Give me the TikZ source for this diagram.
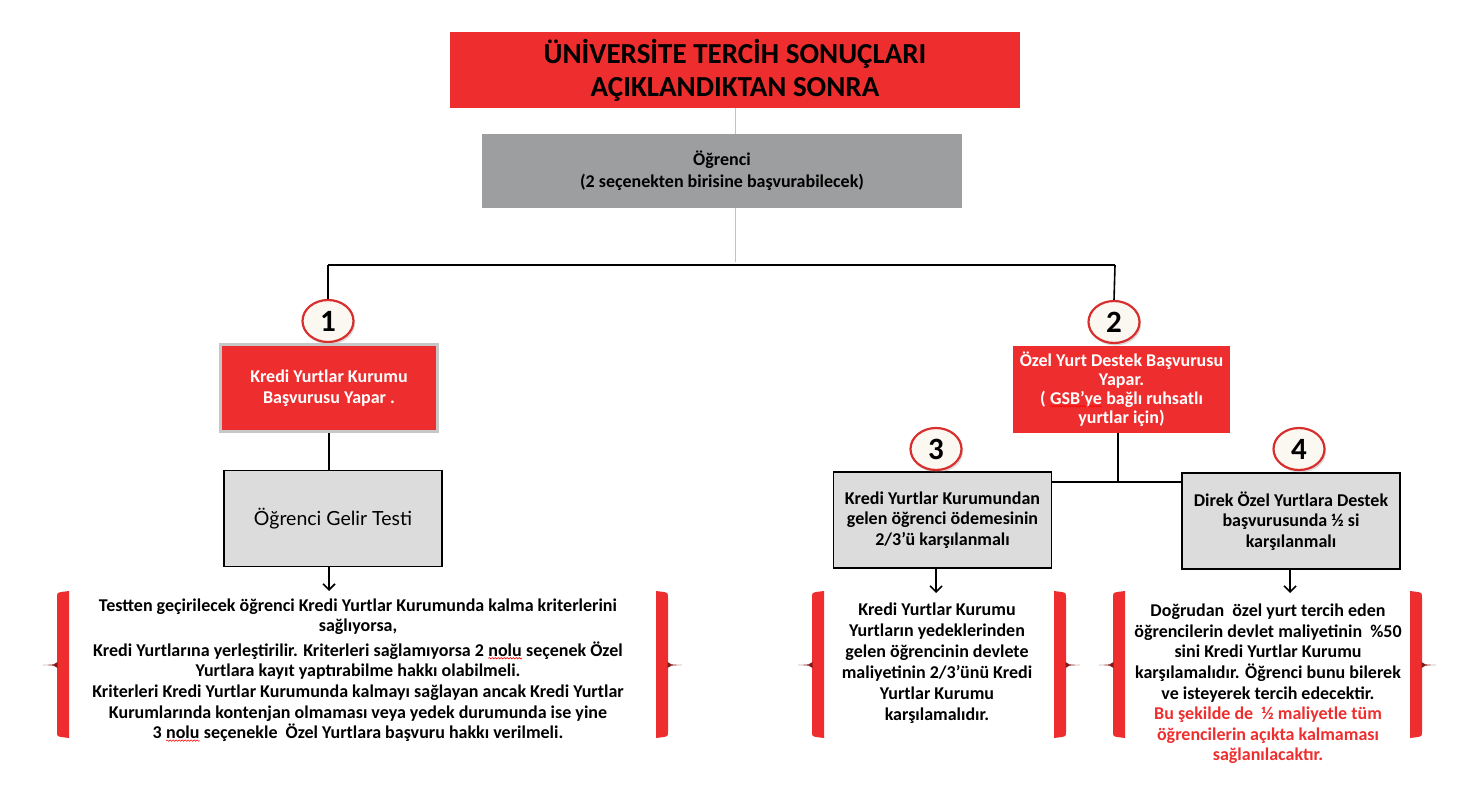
\documentclass[tikz,border=0pt]{standalone}
\usepackage{fontspec}
\setmainfont{Carlito}
\newfontfamily\gelirfont{Lato}
\usetikzlibrary{positioning}
\usetikzlibrary{shapes.geometric}
\usetikzlibrary{shadows}
\usetikzlibrary{arrows.meta}
\usetikzlibrary{decorations.pathmorphing}
\definecolor{kirmizi}{HTML}{EE2E2E}
\definecolor{koyugri}{HTML}{9D9E9F}
\definecolor{acikgri}{HTML}{DCDCDC}
\definecolor{cizgigri}{HTML}{C2C2C2}
\definecolor{krem}{HTML}{FBF8F1}
\definecolor{halka}{HTML}{D92E2E}
\newcommand{\parantez}[2]{%
\begin{scope}[shift={(#1,0)},xscale=#2]
\fill[kirmizi] (12,591) -- (4,592) .. controls (0,593) .. (0,599) -- (0,659) -- (0,671) -- (0,731) .. controls (0,736) .. (4,737) -- (12,738) -- cycle;
\fill[kirmizi!55!black] (0.5,662) .. controls (-2,664.5) .. (-14,665) .. controls (-2,665.5) .. (0.5,668) -- cycle;
\end{scope}}
\newcommand{\dalga}[1]{\tikz[baseline=(d.base)]{\node[shape=rectangle, inner sep=0pt, outer sep=0pt,
    minimum width=0pt, minimum height=0pt, fill=none, draw=none] (d) {#1};
  \draw[red, line width=0.6pt, decorate, decoration={snake, amplitude=0.7pt, segment length=3pt}]
    ([yshift=-2pt]d.base west) -- ([yshift=-2pt]d.base east);}}

\begin{document}
\begin{tikzpicture}[x=1pt,y=-1pt,
  yazi/.style={font=\fontsize{18}{20.6}\selectfont\bfseries, align=center},
  baslik/.style={fill=kirmizi, minimum width=570pt, minimum height=76pt, inner sep=0pt,
    font=\fontsize{29}{33}\selectfont\bfseries, align=center},
  grikutu/.style={yazi, fill=koyugri, minimum width=480pt, minimum height=74pt, inner sep=0pt,
    font=\fontsize{18}{22}\selectfont\bfseries},
  kirmizikutu/.style={yazi, fill=kirmizi, text=white, minimum width=217pt, minimum height=87pt, inner sep=0pt},
  secenek/.style={yazi, fill=acikgri, draw=black, line width=1.6pt, minimum width=218pt, minimum height=96pt, inner sep=0pt},
  daire/.style={ellipse, fill=krem, draw=halka, line width=2.2pt, minimum width=51pt, minimum height=42pt,
    inner sep=0pt, font=\fontsize{31}{31}\selectfont\bfseries,
    drop shadow={shadow xshift=1.5pt, shadow yshift=-2.5pt, opacity=0.3}},
  hat/.style={line width=1.6pt},
  ok/.style={line width=1.6pt, -{Straight Barb[length=6pt,width=12pt,line width=1.6pt]}}]
\useasboundingbox (0,0) rectangle (1471,799);

\node[baslik] (baslik) at (735,70) {ÜNİVERSİTE TERCİH SONUÇLARI\\AÇIKLANDIKTAN SONRA};
\node[grikutu] (ogrenci) at (722,171) {Öğrenci\\(2 seçenekten birisine başvurabilecek)};

\coordinate (bus) at (735,262); %bus
\coordinate (bussol) at (328,265);
\coordinate (bussag) at (1115,265);
\draw[cizgigri, line width=1pt] (baslik.south) -- (baslik.south |- ogrenci.north);
\draw[cizgigri, line width=1pt] (baslik.south |- ogrenci.south) -- (bus);
\draw[hat] (bussol) -- (bussag);

%secenek 1
\node[daire] (daire1) at (328,321) {1};
\node[kirmizikutu, draw=black!22, line width=3pt, font=\fontsize{18}{21}\selectfont\bfseries] (kutu1) at (329,388) {Kredi Yurtlar Kurumu\\Başvurusu Yapar .};
\node[secenek, font=\fontsize{19.5}{22}\gelirfont] (gelir) at (333,518.5) {Öğrenci Gelir Testi};
\draw[hat] (bussol) -- (daire1.north);
\draw[hat] (kutu1.south) -- (kutu1.south |- gelir.north);
\coordinate (ok1) at (329,591);
\draw[ok] (ok1 |- gelir.south) -- (ok1);

%secenek 2
\node[daire] (daire2) at (1114,322) {2};
\node[kirmizikutu, font=\fontsize{18}{19}\selectfont\bfseries] (kutu2) at (1121.5,389) {Özel Yurt Destek Başvurusu\\Yapar.\\( \dalga{GSB’ye} bağlı ruhsatlı\\yurtlar için)};
\draw[hat] (bussag) -- (daire2.north);

%secenek 3 ve 4
\node[secenek] (kutu3) at (942.5,520) {Kredi Yurtlar Kurumundan\\gelen öğrenci ödemesinin\\2/3’ü karşılanmalı};
\node[secenek] (kutu4) at (1291,521) {Direk Özel Yurtlara Destek\\başvurusunda ½ si\\karşılanmalı};
\node[daire] (daire3) at (936,449) {3};
\node[daire] (daire4) at (1299,449) {4};
\coordinate (kavsak) at (1118,482);
\draw[hat] (kavsak |- kutu2.south) -- (kavsak);
\draw[hat] (kutu3.east |- kavsak) -- (kutu4.west |- kavsak);
\coordinate (ok3) at (936,593);
\coordinate (ok4) at (1290,593);
\draw[ok] (ok3 |- kutu3.south) -- (ok3);
\draw[ok] (ok4 |- kutu4.south) -- (ok4);

%aciklamalar
\node[yazi] (metin1) at (358,670) {Testten geçirilecek öğrenci Kredi Yurtlar Kurumunda kalma kriterlerini\\sağlıyorsa,\\[4pt]
Kredi Yurtlarına yerleştirilir. Kriterleri sağlamıyorsa 2 \dalga{nolu} seçenek Özel\\Yurtlara kayıt yaptırabilme hakkı olabilmeli.\\
Kriterleri Kredi Yurtlar Kurumunda kalmayı sağlayan ancak Kredi Yurtlar\\Kurumlarında kontenjan olmaması veya yedek durumunda ise yine\\3 \dalga{nolu} seçenekle \ Özel Yurtlara başvuru hakkı verilmeli.};
\node[yazi, font=\fontsize{18}{21}\selectfont\bfseries] (metin3) at (937,663) {Kredi Yurtlar Kurumu\\Yurtların yedeklerinden\\gelen öğrencinin devlete\\maliyetinin 2/3’ünü Kredi\\Yurtlar Kurumu\\karşılamalıdır.};
\node[yazi, font=\fontsize{18}{20.6}\selectfont\bfseries] (metin4) at (1268,684) {Doğrudan \ özel yurt tercih eden\\öğrencilerin devlet maliyetinin \ \%50\\sini Kredi Yurtlar Kurumu\\karşılamalıdır. Öğrenci bunu bilerek\\ve isteyerek tercih edecektir.\\
\textcolor{kirmizi}{Bu şekilde de \ ½ maliyetle tüm}\\\textcolor{kirmizi}{öğrencilerin açıkta kalmaması}\\\textcolor{kirmizi}{sağlanılacaktır.}};

%parantezler
\parantez{57}{1}
\parantez{668}{-1}
\parantez{812}{1}
\parantez{1066}{-1}
\parantez{1113}{1}
\parantez{1422}{-1}
\end{tikzpicture}
\end{document}
